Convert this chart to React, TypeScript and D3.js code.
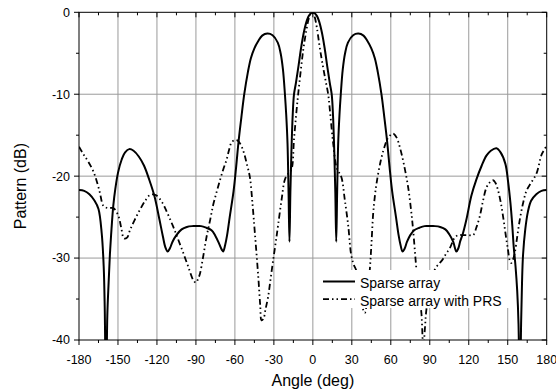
import React from "react";
import * as d3 from "d3";

const xTicks = [-180, -150, -120, -90, -60, -30, 0, 30, 60, 90, 120, 150, 180];
const xMinor = [-165, -135, -105, -75, -45, -15, 15, 45, 75, 105, 135, 165];
const yTicks = [0, -10, -20, -30, -40];
const yMinor = [-5, -15, -25, -35];

const sparseAngle = [
  -180, -176, -172, -168, -165, -162.5, -161, -160.2, -159.2, -158.2, -157.2, -156.2, -155, -153.6, -152, -150,
  -147.2, -144.5, -141.3, -138, -134, -130, -126, -122, -118.2, -115.5, -113.5, -111.8, -110, -108, -105, -101,
  -97, -93, -90, -86, -82, -78, -75, -72, -70, -69, -67.5, -66, -64, -61, -59, -57.2, -55, -52.8, -50, -47.7,
  -45, -42, -39, -35, -31, -27, -24.8, -23, -21.5, -20.5, -19.5, -18.7, -18, -17.3, -16.5, -15.5, -14.5, -13,
  -11, -9, -7, -5, -3, 0, 3, 5, 7, 9, 11, 13, 14.5, 15.5, 16.5, 17.3, 18, 18.7, 19.5, 20.5, 21.5, 23, 24.8, 27,
  31, 35, 39, 42, 45, 47.7, 50, 52.8, 55, 57.2, 59, 61, 64, 66, 67.5, 69, 70.5, 72.5, 75, 78, 82, 86, 90, 94,
  98, 102, 105, 108, 110.5, 112, 113.5, 115.5, 118.2, 122, 125.9, 130, 133.6, 137, 141.3, 144.5, 148.2, 150.3,
  152.1, 153.5, 154.6, 156, 157.3, 158.3, 159.3, 160.3, 161, 161.8, 163.5, 165.6, 168, 172, 176, 180,
];
const sparseDb = [
  -21.7, -21.8, -22.2, -23.0, -24.0, -27, -31, -36, -48, -37, -33, -29.5, -26.5, -23.6, -21.5, -19.6,
  -18, -17.1, -16.7, -16.9, -17.6, -18.7, -20.4, -22.4, -25.2, -27.3, -28.7, -29.2, -28.8, -28, -27.2, -26.5,
  -26.2, -26.1, -26.1, -26.1, -26.3, -26.6, -27.3, -28.3, -29, -29.2, -28.4, -27.2, -25.0, -21.8, -18.8, -15.8, -12.8, -10, -7.3, -5.6,
  -4.4, -3.5, -2.85, -2.6, -2.8, -3.7, -5, -7, -10, -12.5, -16, -22, -28, -22, -17, -12.5, -10, -8.6,
  -6.5, -4.3, -2.5, -1.2, -0.4, 0, -0.4, -1.2, -2.5, -4.3, -6.5, -8.6, -10, -12.5, -17, -22, -28, -22, -16, -12.5, -10, -7, -5, -3.7,
  -2.8, -2.6, -2.85, -3.5, -4.4, -5.6, -7.3, -10, -12.8, -15.8, -18.8, -21.8, -25.0, -27.2, -28.4, -29.2, -28.9, -28, -27.2, -26.6, -26.3, -26.1, -26.1, -26.1,
  -26.2, -26.5, -27.1, -28, -29.2, -28.8, -27.9, -27, -25.3, -22.4, -20.4, -18.7, -17.5, -16.9, -16.6, -17.1, -18.5, -20.7,
  -23.3, -26, -28.6, -31, -34, -38, -48, -38, -33, -29.6, -26.5, -24.3, -23.0, -22.2, -21.8, -21.7,
];

const prsAngle = [
  -180, -176.7, -173, -169, -166, -163.8, -161.3, -158, -153.6, -149.8, -147.5, -145.4, -143, -140.8, -137, -133.1,
  -129, -125.4, -121, -116.4, -112, -107.4, -103.5, -99.7, -96, -92, -90, -88.5, -86.9, -84.5, -81.8, -79, -76.7,
  -74, -71.5, -68.8, -66.4, -64.5, -62.6, -60, -57.5, -54.8, -52.8, -51, -48.5, -46.5, -44.6, -42, -40.5, -39.5,
  -38, -36.5, -34.4, -32.5, -30.5, -28.5, -26.6, -24, -21.5, -19, -16.5, -14.5, -12.5, -11.3, -9.5, -7.4, -5, -3,
  -1, 1, 3, 5.4, 8, 10, 11.8, 13.1, 15.5, 18.2, 20, 22.1, 24.6, 27.2, 29.5, 31.5, 33.6, 36, 38.7, 40, 41.5, 43.8,
  45.2, 46.4, 47.7, 49, 52, 55, 58, 61.8, 64.5, 67, 70, 73.3, 75.5, 77.2, 79.8, 81.8, 83.6, 85, 86.3, 87.4, 90,
  92.5, 95, 97.7, 100.2, 102.8, 105.4, 109.2, 112, 115.6, 119.5, 123.3, 125.8, 128.5, 131, 133.6, 136, 138.7,
  140.5, 142.5, 144.5, 146.4, 148.3, 150.2, 151.6, 152.8, 154, 155.4, 157.3, 159.2, 161.8, 164.4, 168, 172.1,
  176, 178, 180,
];
const prsDb = [
  -16.4, -17.3, -18.2, -19.4, -20.8, -22.1, -23.6, -23.9, -23.9, -24.8, -26.3, -27.6, -27.5, -26.6, -25.3, -24.1,
  -23, -22.3, -22.3, -23.1, -24.5, -26.2, -27.8, -29.4, -31, -32.7, -33, -32.6, -31.9, -29.9, -27.4, -25.3, -23.5,
  -21.9, -20.5, -19.1, -18, -16.8, -15.9, -15.6, -15.7, -16.4, -17.3, -18.4, -20.1, -23.3, -27, -32.3, -35.8, -37.6,
  -37.4, -36.3, -34.7, -32.5, -30.2, -28, -25.8, -22.8, -20.4, -19.7, -19.2, -15.5, -11.9, -10, -7.4, -4.6, -2.2, -0.7,
  0, -0.4, -1.8, -4.4, -6.8, -8.5, -10, -11.9, -15.8, -18.9, -19.5, -20.2, -22.9, -26, -29.6, -30.8, -31.6, -33.8, -36.3, -36.7, -35.5, -31.5,
  -28, -24.6, -22.5, -20.9, -18.3, -16.5, -15.3, -14.8, -15.3, -16.5, -18.5, -21.3, -24, -26.6, -31.5, -34.3, -36.8, -41, -38.5, -36.3, -33.8,
  -31.9, -31.1, -30.6, -30.1, -29.4, -28.8, -27.5, -27.2, -27.2, -27.2, -27.2, -26.3, -24.9, -23, -21.4, -20.8, -20.5,
  -20.8, -21.7, -23.1, -24.9, -27, -29, -30.3, -30.6, -30.2, -29.4, -27.4, -25.4, -23.3, -21.8, -20.8, -19.7,
  -17.4, -16.8, -16.3,
];

const legendLabels = ["Sparse array", "Sparse array with PRS"];

const W = 556;
const H = 391;
const M = { left: 79, right: 9.3, top: 12.3, bottom: 51 };
const FONT = "'Liberation Sans', Arial, sans-serif";

export default function App() {
  const x = d3.scaleLinear().domain([-180, 180]).range([M.left, W - M.right]);
  const y = d3.scaleLinear().domain([-40, 0]).range([H - M.bottom, M.top]);
  const line = d3
    .line<[number, number]>()
    .x((d) => x(d[0]))
    .y((d) => y(d[1]))
    .curve(d3.curveCatmullRom.alpha(0.5));
  const sparse = sparseAngle.map((a, i) => [a, sparseDb[i]] as [number, number]);
  const prs = prsAngle.map((a, i) => [a, prsDb[i]] as [number, number]);
  const x0 = x(-180), x1 = x(180), y0 = y(-40), y1 = y(0);
  const dash = "6,3,1.5,3,1.5,3";
  const lgX = 323, lgY = 281.5;

  return (
    <svg width={W} height={H} style={{ display: "block", position: "absolute", left: 0, top: 0 }} fontFamily={FONT}>
      <defs>
        <clipPath id="plot">
          <rect x={x0} y={y1} width={x1 - x0} height={y0 - y1} />
        </clipPath>
      </defs>
      <rect x={0} y={0} width={W} height={H} fill="#fff" />
      {xTicks.slice(1, -1).map((t) => (
        <line key={"gx" + t} x1={x(t)} x2={x(t)} y1={y1} y2={y0} stroke="#9a9a9a" strokeWidth={1} />
      ))}
      {yTicks.slice(1, -1).map((t) => (
        <line key={"gy" + t} x1={x0} x2={x1} y1={y(t)} y2={y(t)} stroke="#9a9a9a" strokeWidth={1} />
      ))}
      <g clipPath="url(#plot)">
        <path d={line(sparse) || ""} fill="none" stroke="#000" strokeWidth={2} strokeLinejoin="round" />
        <path d={line(prs) || ""} fill="none" stroke="#000" strokeWidth={1.8} strokeDasharray={dash} />
      </g>
      {/* legend */}
      <rect x={318} y={270} width={194} height={38} fill="#fff" />
      <line x1={lgX} x2={lgX + 32} y1={lgY} y2={lgY} stroke="#000" strokeWidth={2} />
      <line x1={lgX} x2={lgX + 32} y1={lgY + 17.7} y2={lgY + 17.7} stroke="#000" strokeWidth={1.8} strokeDasharray={dash} />
      {legendLabels.map((l, i) => (
        <text key={l} x={360} y={288.3 + i * 17.7} fontSize={14} fill="#000">{l}</text>
      ))}
      {/* frame */}
      <rect x={x0} y={y1} width={x1 - x0} height={y0 - y1} fill="none" stroke="#000" strokeWidth={1} />
      {xTicks.map((t) => (
        <g key={"tx" + t}>
          <line x1={x(t)} x2={x(t)} y1={y0} y2={y0 + 5} stroke="#000" />
          <line x1={x(t)} x2={x(t)} y1={y1} y2={y1 + 5} stroke="#000" />
          <text x={x(t)} y={364} textAnchor="middle" fontSize={12.5}>{t}</text>
        </g>
      ))}
      {xMinor.map((t) => (
        <g key={"mx" + t}>
          <line x1={x(t)} x2={x(t)} y1={y0} y2={y0 + 3} stroke="#000" />
          <line x1={x(t)} x2={x(t)} y1={y1} y2={y1 + 3} stroke="#000" />
        </g>
      ))}
      {yTicks.map((t) => (
        <g key={"ty" + t}>
          <line x1={x0 - 5} x2={x0} y1={y(t)} y2={y(t)} stroke="#000" />
          <line x1={x1 - 5} x2={x1} y1={y(t)} y2={y(t)} stroke="#000" />
          <text x={70} y={y(t)} dy="0.35em" textAnchor="end" fontSize={12.5}>{t}</text>
        </g>
      ))}
      {yMinor.map((t) => (
        <g key={"my" + t}>
          <line x1={x0 - 3} x2={x0} y1={y(t)} y2={y(t)} stroke="#000" />
          <line x1={x1 - 3} x2={x1} y1={y(t)} y2={y(t)} stroke="#000" />
        </g>
      ))}
      <text x={(x0 + x1) / 2} y={386} textAnchor="middle" fontSize={16}>Angle (deg)</text>
      <text transform={`translate(26,${(y0 + y1) / 2 + 10}) rotate(-90)`} textAnchor="middle" fontSize={16}>Pattern (dB)</text>
    </svg>
  );
}
